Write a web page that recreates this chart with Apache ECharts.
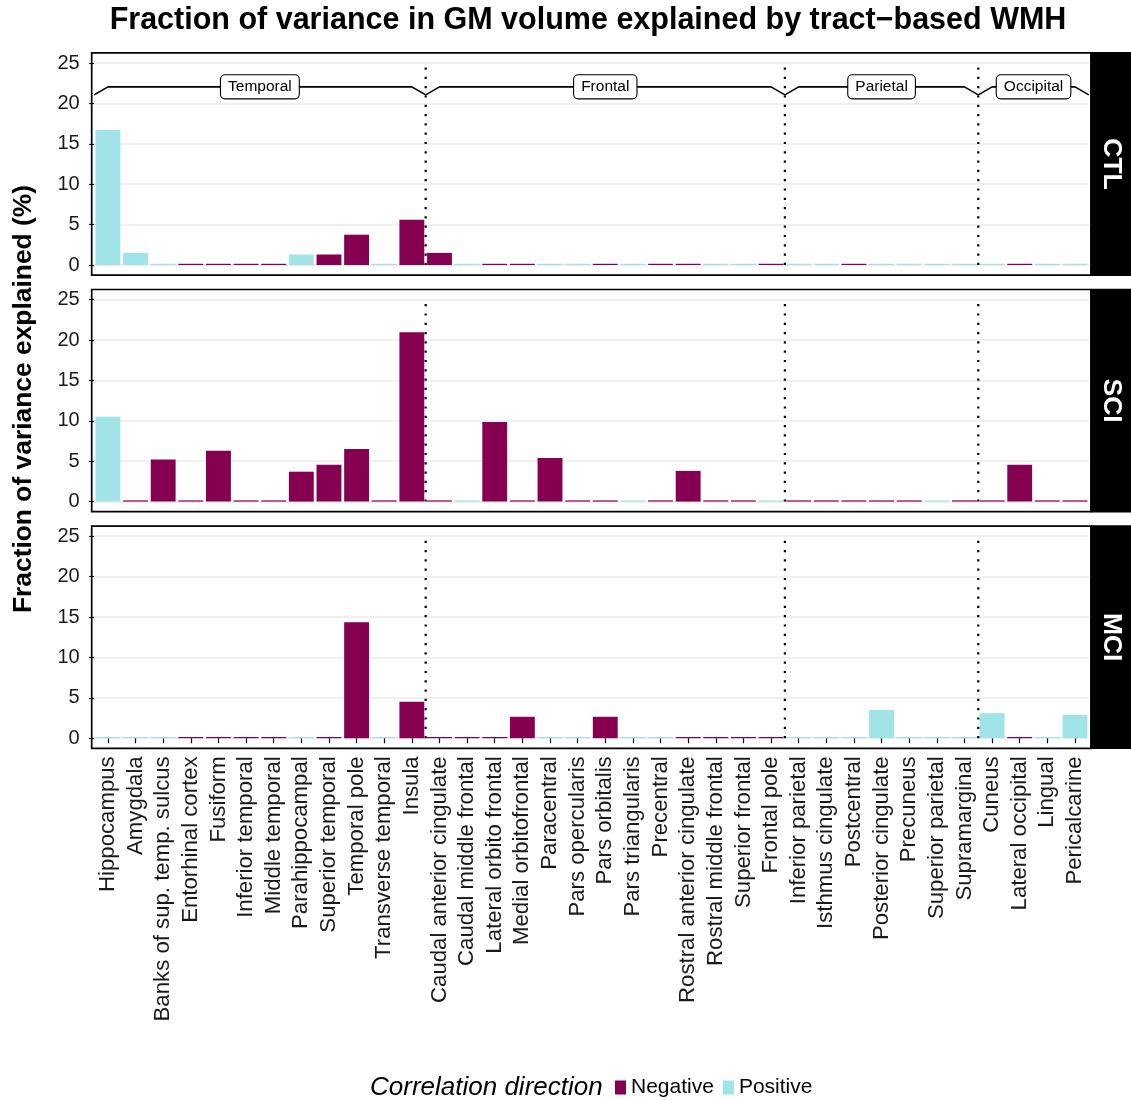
<!DOCTYPE html>
<html>
<head>
<meta charset="utf-8">
<script src="https://cdn.jsdelivr.net/npm/echarts@6/dist/echarts.min.js"></script>
<style>
  html, body { margin: 0; background: #fff; }
  #chart { width: 1131px; height: 1100px; }
</style>
</head>
<body>
<div id="chart"></div>
<script>
// brain regions, ordered by lobe
const regions = [
  'Hippocampus', 'Amygdala', 'Banks of sup. temp. sulcus', 'Entorhinal cortex', 'Fusiform',
  'Inferior temporal', 'Middle temporal', 'Parahippocampal', 'Superior temporal', 'Temporal pole',
  'Transverse temporal', 'Insula',
  'Caudal anterior cingulate', 'Caudal middle frontal', 'Lateral orbito frontal', 'Medial orbitofrontal',
  'Paracentral', 'Pars opercularis', 'Pars orbitalis', 'Pars triangularis', 'Precentral',
  'Rostral anterior cingulate', 'Rostral middle frontal', 'Superior frontal', 'Frontal pole',
  'Inferior parietal', 'Isthmus cingulate', 'Postcentral', 'Posterior cingulate', 'Precuneus',
  'Superior parietal', 'Supramarginal',
  'Cuneus', 'Lateral occipital', 'Lingual', 'Pericalcarine'
];
const lobes = ['Temporal', 'Frontal', 'Parietal', 'Occipital'];
const lobeSizes = [12, 13, 7, 4];
const groups = ['CTL', 'SCI', 'MCI'];

// % variance explained, and correlation direction (N = negative, P = positive)
const ctlValues = [16.7, 1.5, 0.15, 0.15, 0.15, 0.15, 0.15, 1.3, 1.3, 3.75, 0.15, 5.6,
  1.5, 0.15, 0.15, 0.15, 0.15, 0.15, 0.15, 0.15, 0.15, 0.15, 0.15, 0.15, 0.15,
  0.15, 0.15, 0.15, 0.15, 0.15, 0.15, 0.15, 0.15, 0.15, 0.15, 0.15];
const ctlSign = ['P', 'P', 'P', 'N', 'N', 'N', 'N', 'P', 'N', 'N', 'P', 'N',
  'N', 'P', 'N', 'N', 'P', 'P', 'N', 'P', 'N', 'N', 'P', 'P', 'N',
  'P', 'P', 'N', 'P', 'P', 'P', 'P', 'P', 'N', 'P', 'P'];

const sciValues = [10.5, 0.15, 5.2, 0.15, 6.3, 0.15, 0.15, 3.7, 4.55, 6.5, 0.15, 20.95,
  0.15, 0.15, 9.85, 0.15, 5.4, 0.15, 0.15, 0.15, 0.15, 3.8, 0.15, 0.15, 0.15,
  0.15, 0.15, 0.15, 0.15, 0.15, 0.15, 0.15, 0.15, 4.55, 0.15, 0.15];
const sciSign = ['P', 'N', 'N', 'N', 'N', 'N', 'N', 'N', 'N', 'N', 'N', 'N',
  'N', 'P', 'N', 'N', 'N', 'N', 'N', 'P', 'N', 'N', 'N', 'N', 'P',
  'N', 'N', 'N', 'N', 'N', 'P', 'N', 'N', 'N', 'N', 'N'];

const mciValues = [0.15, 0.15, 0.15, 0.15, 0.15, 0.15, 0.15, 0.15, 0.15, 14.35, 0.15, 4.5,
  0.15, 0.15, 0.15, 2.65, 0.15, 0.15, 2.65, 0.15, 0.15, 0.15, 0.15, 0.15, 0.15,
  0.15, 0.15, 0.15, 3.5, 0.15, 0.15, 0.15, 3.1, 0.15, 0.15, 2.9];
const mciSign = ['P', 'P', 'P', 'N', 'N', 'N', 'N', 'P', 'N', 'N', 'P', 'N',
  'N', 'N', 'N', 'N', 'P', 'P', 'N', 'P', 'P', 'N', 'N', 'N', 'N',
  'P', 'P', 'P', 'P', 'P', 'P', 'P', 'P', 'N', 'P', 'P'];

const panelValues = [ctlValues, sciValues, mciValues];
const panelSigns = [ctlSign, sciSign, mciSign];

const NEG = '#850050';
const POS = '#a0e4e7';
const FONT = '"Liberation Sans", Arial, Helvetica, sans-serif';

// layout (px)
const gridLeft = 94.1, gridW = 994.7;
const gridTops = [63, 299.6, 536.2];
const gridH = 202;
const padY = 10.1;          // panel extends beyond 0..25 by this much
const panelL = 91.7, panelR = 1090.9;

const bounds = [];
let acc = 0;
lobeSizes.forEach(n => { acc += n; bounds.push(acc); });
const innerBounds = bounds.slice(0, -1);

// bracket polyline across the lobes
const bracket = [];
let start = 0;
lobeSizes.forEach((n, i) => {
  const end = start + n;
  if (i === 0) bracket.push([start, 21.05]);
  bracket.push([start + 0.5, 22.05], [end - 0.5, 22.05], [end, 21.05]);
  start = end;
});
const lobeLabels = [];
start = 0;
lobeSizes.forEach((n, i) => {
  lobeLabels.push([start + n / 2, 22.05, lobes[i]]);
  start += n;
});

const grids = [], xAxes = [], yAxes = [], series = [], graphics = [];

groups.forEach((g, p) => {
  grids.push({ left: gridLeft, width: gridW, top: gridTops[p], height: gridH });
  const isLast = p === groups.length - 1;
  xAxes.push({
    type: 'category', gridIndex: p, data: regions, position: 'bottom',
    offset: padY,
    axisLine: { show: false },
    axisTick: { show: isLast, alignWithLabel: true, length: 5, lineStyle: { color: '#000', width: 1.2 } },
    axisLabel: { show: isLast, rotate: 90, interval: 0, fontSize: 22.2, color: '#1a1a1a', margin: 8, fontFamily: FONT },
    splitLine: { show: false }
  });
  xAxes.push({ type: 'value', gridIndex: p, min: 0, max: regions.length, show: false });
  yAxes.push({
    type: 'value', gridIndex: p, min: 0, max: 25, interval: 5,
    offset: gridLeft - panelL,
    axisLine: { show: false },
    axisTick: { show: true, length: 5, lineStyle: { color: '#000', width: 1.2 } },
    axisLabel: { fontSize: 20, color: '#1a1a1a', margin: 12, fontFamily: FONT },
    splitLine: { show: true, lineStyle: { color: '#ebebeb', width: 1.6 } }
  });

  const vals = panelValues[p], sgn = panelSigns[p];
  series.push({
    name: 'Negative', type: 'bar', xAxisIndex: 2 * p, yAxisIndex: p,
    data: vals.map((v, i) => sgn[i] === 'N' ? v : '-'),
    barWidth: '90%', barGap: '-100%', itemStyle: { color: NEG }, z: 3, silent: true
  });
  series.push({
    name: 'Positive', type: 'bar', xAxisIndex: 2 * p, yAxisIndex: p,
    data: vals.map((v, i) => sgn[i] === 'P' ? v : '-'),
    barWidth: '90%', barGap: '-100%', itemStyle: { color: POS }, z: 3, silent: true
  });
  innerBounds.forEach(b => {
    series.push({
      type: 'line', xAxisIndex: 2 * p + 1, yAxisIndex: p,
      data: [[b, 0], [b, 24.5]], symbol: 'none', silent: true, z: 4,
      lineStyle: { color: '#000', width: 2.2, type: [2.2, 7.1], cap: 'butt' }
    });
  });
  if (p === 0) {
    series.push({
      type: 'line', xAxisIndex: 1, yAxisIndex: 0, data: bracket,
      symbol: 'none', silent: true, z: 5,
      lineStyle: { color: '#000', width: 1.6 }
    });
    series.push({
      type: 'scatter', xAxisIndex: 1, yAxisIndex: 0, data: lobeLabels,
      symbolSize: 2, itemStyle: { color: 'rgba(0,0,0,0)', opacity: 1 }, silent: true, z: 6,
      label: {
        show: true, position: 'inside', formatter: d => d.value[2],
        fontSize: 15.5, color: '#000', opacity: 1, fontFamily: FONT,
        textBorderWidth: 0, textBorderColor: 'transparent',
        backgroundColor: '#fff', borderColor: '#000', borderWidth: 1.1,
        borderRadius: 4, padding: [4, 7, 3, 7]
      }
    });
  }

  const top = gridTops[p] - padY, h = gridH + 2 * padY;
  graphics.push({
    type: 'rect', z: 100,
    shape: { x: panelL, y: top, width: panelR - panelL, height: h },
    style: { fill: null, stroke: '#000', lineWidth: 1.7 }
  });
  graphics.push({
    type: 'rect', z: 100,
    shape: { x: panelR, y: top - 0.8, width: 1131 - panelR, height: h + 1.6 },
    style: { fill: '#000' }
  });
  graphics.push({
    type: 'text', z: 101, x: 1111, y: top + h / 2, rotation: -Math.PI / 2,
    style: { text: g, font: 'bold 26.5px ' + FONT, fill: '#fff', align: 'center', verticalAlign: 'middle' }
  });
});

graphics.push({
  type: 'text', x: 588, y: 21,
  style: { text: 'Fraction of variance in GM volume explained by tract\u2212based WMH',
    font: 'bold 30.5px ' + FONT, fill: '#000', align: 'center', verticalAlign: 'middle' }
});
graphics.push({
  type: 'text', x: 24, y: 399, rotation: Math.PI / 2,
  style: { text: 'Fraction of variance explained (%)', font: 'bold 26.4px ' + FONT,
    fill: '#000', align: 'center', verticalAlign: 'middle' }
});
graphics.push({
  type: 'text', x: 370, y: 1088,
  style: { text: 'Correlation direction', font: 'italic 26px ' + FONT,
    fill: '#000', align: 'left', verticalAlign: 'middle' }
});

const option = {
  animation: false,
  textStyle: { fontFamily: FONT },
  grid: grids,
  xAxis: xAxes,
  yAxis: yAxes,
  legend: {
    data: ['Negative', 'Positive'], left: 615, top: 1077, padding: 0,
    icon: 'rect', itemWidth: 11, itemHeight: 14, itemGap: 9, selectedMode: false,
    textStyle: { fontSize: 21, color: '#000', fontFamily: FONT }
  },
  graphic: graphics,
  series: series
};

const chart = echarts.init(document.getElementById('chart'));
chart.setOption(option);
</script>
</body>
</html>
